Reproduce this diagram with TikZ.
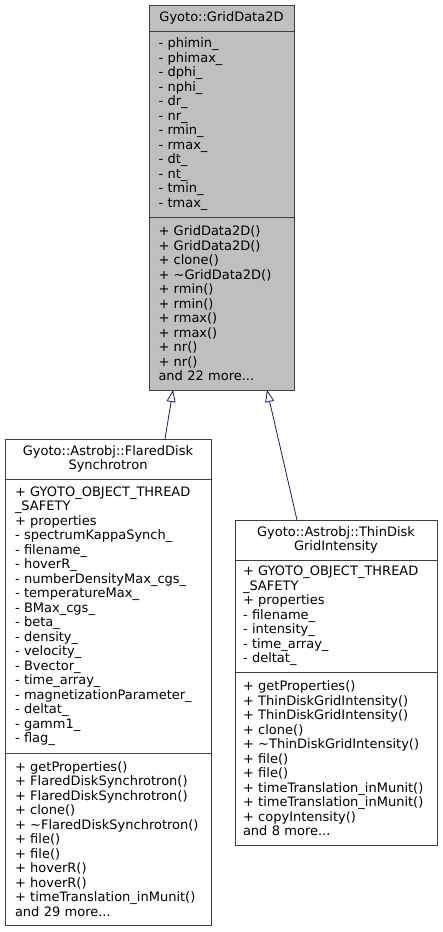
\documentclass[tikz,border=0pt]{standalone}
\usepackage{fontspec}
\setmainfont{DejaVu Sans}
\usepackage{xcolor}
\definecolor{edgeblue}{HTML}{191970}
\definecolor{basegray}{HTML}{BFBFBF}
\definecolor{framegray}{HTML}{404040}
\usetikzlibrary{arrows.meta,positioning}

\tikzset{
  part/.style={draw=framegray, line width=1pt, outer sep=0pt, inner ysep=0pt, align=left},
  head/.style={part, align=center, anchor=north west},
  inherit/.style={draw=edgeblue, line width=0.8pt, -{Triangle[open, length=12pt, width=9pt]}}
}

\begin{document}
\begin{tikzpicture}[x=1pt, y=-1pt, font=\fontsize{13}{14.5}\selectfont]
        \useasboundingbox (0,0) rectangle (443,932);
        % base class
        \node[head, fill=basegray, text width=126pt, inner xsep=9.5pt, minimum height=26pt] (gridhead) at (149,5) {Gyoto::GridData2D};
        \node[part, fill=basegray, text width=126pt, inner xsep=9.5pt, minimum height=186pt, below=0pt of gridhead] (gridattr)
          {- phimin\_\\- phimax\_\\- dphi\_\\- nphi\_\\- dr\_\\- nr\_\\- rmin\_\\- rmax\_\\- dt\_\\- nt\_\\- tmin\_\\- tmax\_};
        \node[part, fill=basegray, text width=126pt, inner xsep=9.5pt, minimum height=173pt, below=0pt of gridattr] (gridmeth)
          {+ GridData2D()\\+ GridData2D()\\+ clone()\\+ \textasciitilde GridData2D()\\+ rmin()\\+ rmin()\\+ rmax()\\+ rmax()\\+ nr()\\+ nr()\\and 22 more...};
        % derived classes
        \node[head, fill=white, text width=186pt, inner xsep=10pt, minimum height=40pt] (fdshead) at (5,439) {Gyoto::Astrobj::FlaredDisk\\Synchrotron};
        \node[part, text width=186pt, inner xsep=10pt, minimum height=274pt, below=0pt of fdshead] (fdsattr)
          {+ GYOTO\_OBJECT\_THREAD\\\_SAFETY\\+ properties\\- spectrumKappaSynch\_\\- filename\_\\- hoverR\_\\- numberDensityMax\_cgs\_\\- temperatureMax\_\\- BMax\_cgs\_\\- beta\_\\- density\_\\- velocity\_\\- Bvector\_\\- time\_array\_\\- magnetizationParameter\_\\- deltat\_\\- gamm1\_\\- flag\_};
        \node[part, text width=186pt, inner xsep=10pt, minimum height=172pt, below=0pt of fdsattr] (fdsmeth)
          {+ getProperties()\\+ FlaredDiskSynchrotron()\\+ FlaredDiskSynchrotron()\\+ clone()\\+ \textasciitilde FlaredDiskSynchrotron()\\+ file()\\+ file()\\+ hoverR()\\+ hoverR()\\+ timeTranslation\_inMunit()\\and 29 more...};
        \node[head, fill=white, text width=186pt, inner xsep=8pt, minimum height=40pt] (tdghead) at (235,520) {Gyoto::Astrobj::ThinDisk\\GridIntensity};
        \node[part, text width=186pt, inner xsep=8pt, minimum height=112pt, below=0pt of tdghead] (tdgattr)
          {+ GYOTO\_OBJECT\_THREAD\\\_SAFETY\\+ properties\\- filename\_\\- intensity\_\\- time\_array\_\\- deltat\_};
        \node[part, text width=186pt, inner xsep=8pt, minimum height=173pt, below=0pt of tdgattr] (tdgmeth)
          {+ getProperties()\\+ ThinDiskGridIntensity()\\+ ThinDiskGridIntensity()\\+ clone()\\+ \textasciitilde ThinDiskGridIntensity()\\+ file()\\+ file()\\+ timeTranslation\_inMunit()\\+ timeTranslation\_inMunit()\\+ copyIntensity()\\and 8 more...};
        \draw[inherit] ([xshift=57pt]fdshead.north) -- ([xshift=-48.5pt]gridmeth.south);
        \draw[inherit] ([xshift=-39pt]tdghead.north) -- ([xshift=45.5pt]gridmeth.south);
      \end{tikzpicture}
\end{document}
